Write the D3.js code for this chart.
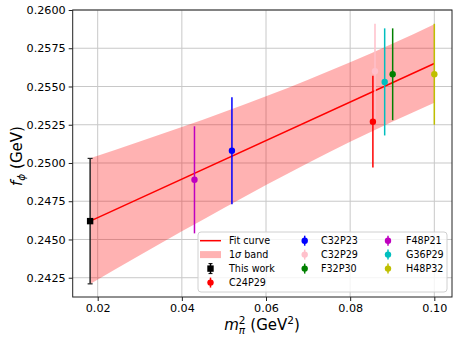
<!DOCTYPE html>
<html>
<head>
<meta charset="utf-8">
<script src="https://cdn.jsdelivr.net/npm/d3@7"></script>
<style>
  body { margin: 0; background: #fff; }
  text { font-family: "DejaVu Sans", sans-serif; }
</style>
</head>
<body>
<svg id="chart"></svg>
<script>
// Lattice ensembles and their f_phi values (GeV)
var ensembles = ["C24P29", "C32P23", "C32P29", "F32P30", "F48P21", "G36P29", "H48P32"];
var ensMpi2 = [0.0854, 0.0519, 0.0859, 0.0901, 0.0430, 0.0882, 0.1000];
var ensFphi = [0.2527, 0.2508, 0.2560, 0.2558, 0.2489, 0.2553, 0.2558];
var ensErr = [0.0030, 0.0035, 0.0031, 0.0030, 0.0035, 0.0035, 0.0033];
var ensColours = ["#ff0000", "#0000ff", "#ffc0cb", "#008000", "#bf00bf", "#00bfbf", "#bfbf00"];

// Extrapolated point
var thisWork = { label: "This work", x: 0.0182, y: 0.2462, err: 0.0041 };

// Fit line and 1 sigma band
var fitX = [0.0182, 0.1];
var fitY = [0.2462, 0.2565];
var bandX = [0.0182, 0.03, 0.04, 0.05, 0.06, 0.07, 0.08, 0.09, 0.10];
var bandLo = [0.24209, 0.24397, 0.24553, 0.24706, 0.24856, 0.25000, 0.25138, 0.25269, 0.25393];
var bandHi = [0.25031, 0.25141, 0.25235, 0.25334, 0.25436, 0.25544, 0.25658, 0.25779, 0.25907];

// Tick labels
var xTicks = [0.02, 0.04, 0.06, 0.08, 0.10];
var yTicks = [0.2425, 0.2450, 0.2475, 0.2500, 0.2525, 0.2550, 0.2575, 0.2600];

var width = 458,
  height = 341,
  plotLeft = 72.7,
  plotRight = 452,
  plotTop = 10,
  plotBottom = 297;

var x = d3.scaleLinear().domain([0.01406, 0.1042]).range([plotLeft, plotRight]);
var y = d3.scaleLinear().domain([0.24124, 0.2600]).range([plotBottom, plotTop]);

var svg = d3.select("#chart").attr("width", width).attr("height", height);

// Grid lines
svg.append("g")
  .selectAll("line")
  .data(xTicks)
  .enter()
  .append("line")
  .attr("x1", function (d) { return x(d); })
  .attr("x2", function (d) { return x(d); })
  .attr("y1", plotTop)
  .attr("y2", plotBottom)
  .attr("stroke", "#c8c8c8")
  .attr("stroke-width", 1);

svg.append("g")
  .selectAll("line")
  .data(yTicks)
  .enter()
  .append("line")
  .attr("x1", plotLeft)
  .attr("x2", plotRight)
  .attr("y1", function (d) { return y(d); })
  .attr("y2", function (d) { return y(d); })
  .attr("stroke", "#c8c8c8")
  .attr("stroke-width", 1);

// 1 sigma band
var band = d3.area()
  .x(function (d, i) { return x(bandX[i]); })
  .y0(function (d, i) { return y(bandLo[i]); })
  .y1(function (d, i) { return y(bandHi[i]); })
  .curve(d3.curveMonotoneX);

svg.append("path")
  .attr("d", band(bandX))
  .attr("fill", "#ff0000")
  .attr("fill-opacity", 0.3);

// Fit curve
var fitLine = d3.line()
  .x(function (d, i) { return x(fitX[i]); })
  .y(function (d, i) { return y(fitY[i]); });

svg.append("path")
  .attr("d", fitLine(fitX))
  .attr("fill", "none")
  .attr("stroke", "#ff0000")
  .attr("stroke-width", 1.5);

// This work, black square with capped error bar
var tw = svg.append("g");
tw.append("line")
  .attr("x1", x(thisWork.x)).attr("x2", x(thisWork.x))
  .attr("y1", y(thisWork.y - thisWork.err)).attr("y2", y(thisWork.y + thisWork.err))
  .attr("stroke", "#262626").attr("stroke-width", 1.5);
[thisWork.y - thisWork.err, thisWork.y + thisWork.err].forEach(function (v) {
  tw.append("line")
    .attr("x1", x(thisWork.x) - 2.5).attr("x2", x(thisWork.x) + 2.5)
    .attr("y1", y(v)).attr("y2", y(v))
    .attr("stroke", "#262626").attr("stroke-width", 1.2);
});
tw.append("rect")
  .attr("x", x(thisWork.x) - 3.2).attr("y", y(thisWork.y) - 3.2)
  .attr("width", 6.4).attr("height", 6.4)
  .attr("fill", "#000");

// Ensemble error bars
var ens = svg.append("g")
  .selectAll("g")
  .data(ensembles)
  .enter()
  .append("g");

ens.append("line")
  .attr("x1", function (d, i) { return x(ensMpi2[i]); })
  .attr("x2", function (d, i) { return x(ensMpi2[i]); })
  .attr("y1", function (d, i) { return y(ensFphi[i] - ensErr[i]); })
  .attr("y2", function (d, i) { return y(ensFphi[i] + ensErr[i]); })
  .attr("stroke", function (d, i) { return ensColours[i]; })
  .attr("stroke-width", 1.5);

ens.append("circle")
  .attr("cx", function (d, i) { return x(ensMpi2[i]); })
  .attr("cy", function (d, i) { return y(ensFphi[i]); })
  .attr("r", 3.2)
  .attr("fill", function (d, i) { return ensColours[i]; });

// Axes frame
svg.append("rect")
  .attr("x", plotLeft).attr("y", plotTop)
  .attr("width", plotRight - plotLeft).attr("height", plotBottom - plotTop)
  .attr("fill", "none")
  .attr("stroke", "#222")
  .attr("stroke-width", 1);

var xAxis = svg.append("g")
  .attr("transform", "translate(0," + plotBottom + ")")
  .call(d3.axisBottom(x).tickValues(xTicks).tickFormat(d3.format(".2f")).tickSize(4).tickPadding(3));
var yAxis = svg.append("g")
  .attr("transform", "translate(" + plotLeft + ",0)")
  .call(d3.axisLeft(y).tickValues(yTicks).tickFormat(d3.format(".4f")).tickSize(4).tickPadding(3));

[xAxis, yAxis].forEach(function (a) {
  a.select(".domain").remove();
  a.selectAll("text").attr("font-size", 11.2).attr("fill", "#000");
  a.selectAll("line").attr("stroke", "#222");
});

// Axis labels
var xl = svg.append("text")
  .attr("x", 262)
  .attr("y", 330)
  .attr("text-anchor", "middle")
  .attr("font-size", 15);
xl.append("tspan").attr("font-style", "italic").text("m");
xl.append("tspan").attr("font-style", "italic").attr("font-size", 10.5).attr("dy", 3.5).text("π");
xl.append("tspan").attr("font-size", 10.5).attr("dx", -6.3).attr("dy", -9.5).text("2");
xl.append("tspan").attr("dy", 6).text(" (GeV");
xl.append("tspan").attr("font-size", 10.5).attr("dy", -6).text("2");
xl.append("tspan").attr("dy", 6).text(")");

var yl = svg.append("text")
  .attr("transform", "translate(22,156) rotate(-90)")
  .attr("text-anchor", "middle")
  .attr("font-size", 15);
yl.append("tspan").attr("font-style", "italic").text("f");
yl.append("tspan").attr("font-style", "italic").attr("font-size", 10.5).attr("dy", 3).text("ϕ");
yl.append("tspan").attr("dy", -3).text(" (GeV)");

// Legend
var legend = svg.append("g");
legend.append("rect")
  .attr("x", 198).attr("y", 232)
  .attr("width", 249).attr("height", 60)
  .attr("rx", 3)
  .attr("fill", "#fff").attr("fill-opacity", 0.8)
  .attr("stroke", "#d0d0d0").attr("stroke-width", 1);

var rowY = [240.7, 254.6, 268.6, 282.6];
var colHandle = [210.5, 304.7, 388];
var colText = [229, 321, 406];

// column 1: line, band, this work, C24P29
legend.append("line")
  .attr("x1", 200).attr("x2", 221)
  .attr("y1", rowY[0]).attr("y2", rowY[0])
  .attr("stroke", "#ff0000").attr("stroke-width", 1.5);
legend.append("rect")
  .attr("x", 200).attr("y", rowY[1] - 3.5)
  .attr("width", 21).attr("height", 7)
  .attr("fill", "#ff0000").attr("fill-opacity", 0.3);

var entries = [{ label: "This work", colour: "#000", square: true }];
ensembles.forEach(function (e, i) {
  entries.push({ label: e, colour: ensColours[i], square: false });
});

var slots = [[0, 2], [0, 3], [1, 0], [1, 1], [1, 2], [2, 0], [2, 1], [2, 2]];

legend.append("text")
  .attr("x", colText[0]).attr("y", rowY[0]).attr("dy", "0.35em")
  .attr("font-size", 9.6).text("Fit curve");
var bandLabel = legend.append("text")
  .attr("x", colText[0]).attr("y", rowY[1]).attr("dy", "0.35em")
  .attr("font-size", 9.6);
bandLabel.append("tspan").text("1");
bandLabel.append("tspan").attr("font-style", "italic").text("σ");
bandLabel.append("tspan").text(" band");

entries.forEach(function (e, i) {
  var cx = colHandle[slots[i][0]],
    cy = rowY[slots[i][1]];
  var g = legend.append("g");
  g.append("line")
    .attr("x1", cx).attr("x2", cx)
    .attr("y1", cy - 5).attr("y2", cy + 5)
    .attr("stroke", e.colour).attr("stroke-width", 1.5);
  if (e.square) {
    g.append("line").attr("x1", cx - 2).attr("x2", cx + 2).attr("y1", cy - 5).attr("y2", cy - 5)
      .attr("stroke", e.colour).attr("stroke-width", 1);
    g.append("line").attr("x1", cx - 2).attr("x2", cx + 2).attr("y1", cy + 5).attr("y2", cy + 5)
      .attr("stroke", e.colour).attr("stroke-width", 1);
    g.append("rect").attr("x", cx - 3.2).attr("y", cy - 3.2).attr("width", 6.4).attr("height", 6.4)
      .attr("fill", e.colour);
  } else {
    g.append("circle").attr("cx", cx).attr("cy", cy).attr("r", 3.2).attr("fill", e.colour);
  }
  legend.append("text")
    .attr("x", colText[slots[i][0]]).attr("y", cy).attr("dy", "0.35em")
    .attr("font-size", 9.6).text(e.label);
});
</script>
</body>
</html>
